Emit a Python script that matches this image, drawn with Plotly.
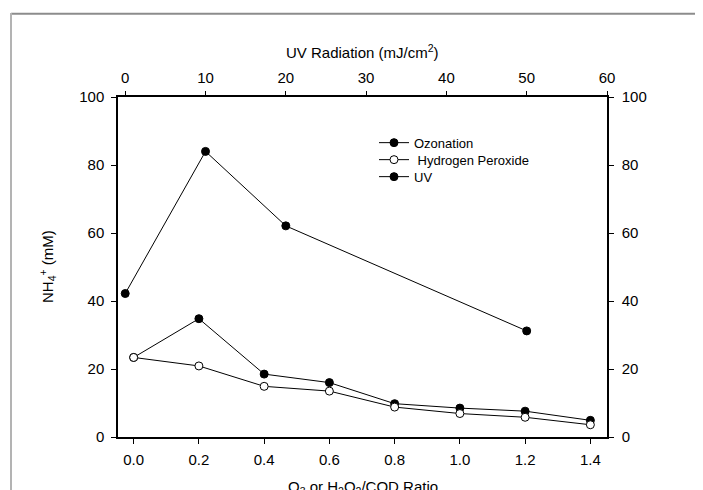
import plotly.graph_objects as go

# oxidant dose ratio (bottom axis)
ratio = [0.0, 0.2, 0.4, 0.6, 0.8, 1.0, 1.2, 1.4]
ozonation = [23.4, 34.8, 18.5, 16.0, 9.8, 8.5, 7.6, 4.9]
peroxide = [23.4, 20.9, 14.9, 13.5, 8.8, 6.9, 5.8, 3.6]

# UV dose (top axis)
uv_dose = [0, 10, 20, 50]
uv_nh4 = [42.2, 84.0, 62.1, 31.2]

FONT = "Liberation Sans, Arial, sans-serif"
OFF = 8  # page body margin
W, H = 703, 490
L, T = 110, 89
R, B = W - 599, H - 429
PW, PH = W - L - R, H - T - B


# page pixel -> paper coordinate
def px(x):
    return (x - OFF - L) / PW


def py(y):
    return (H - B - (y - OFF)) / PH


fig = go.Figure()
fig.add_trace(go.Scatter(
    x=ratio, y=ozonation, name="Ozonation", mode="lines+markers",
    line=dict(color="black", width=1), legend="legend",
    marker=dict(size=8, color="black", line=dict(color="black", width=1))))
fig.add_trace(go.Scatter(
    x=ratio, y=peroxide, name=" Hydrogen Peroxide", mode="lines+markers",
    line=dict(color="black", width=1), legend="legend2",
    marker=dict(size=8, color="white", line=dict(color="black", width=1))))
fig.add_trace(go.Scatter(
    x=uv_dose, y=uv_nh4, name="UV", mode="lines+markers",
    xaxis="x2", yaxis="y2", legend="legend3",
    line=dict(color="black", width=1),
    marker=dict(size=8, color="black", line=dict(color="black", width=1))))

axis_common = dict(showgrid=False, zeroline=False, showline=True,
                   linecolor="black", linewidth=1.5, ticks="outside",
                   tickcolor="black", tickwidth=1,
                   tickfont=dict(family=FONT, size=15, color="black"))

leg = dict(xanchor="left", yanchor="middle", bgcolor="rgba(0,0,0,0)",
           font=dict(family=FONT, size=13, color="black"))

fig.update_layout(
    width=W, height=H,
    showlegend=True,
    margin=dict(l=L, r=R, t=T, b=B),
    paper_bgcolor="white", plot_bgcolor="white",
    font=dict(family=FONT, color="black"),
    xaxis=dict(range=[-0.048, 1.451], tickvals=ratio,
               ticktext=[f"{v:.1f}" for v in ratio], ticklen=5,
               ticklabelstandoff=3, **axis_common),
    xaxis2=dict(range=[-0.9, 60], tickvals=[0, 10, 20, 30, 40, 50, 60],
                overlaying="x", side="top", anchor="y2", ticklen=4,
                ticklabelstandoff=2, **axis_common),
    yaxis=dict(range=[0, 100], tickvals=[0, 20, 40, 60, 80, 100], ticklen=5,
               ticklabelstandoff=4, **axis_common),
    yaxis2=dict(range=[0, 100], tickvals=[0, 20, 40, 60, 80, 100], ticklen=5,
                overlaying="y", side="right", anchor="x2",
                ticklabelstandoff=5, **axis_common),
    legend=dict(x=px(374), y=py(142.7), **leg),
    legend2=dict(x=px(374), y=py(159.7), **leg),
    legend3=dict(x=px(374), y=py(176.7), **leg),
    shapes=[
        dict(type="line", xref="paper", yref="paper",
             x0=px(11), x1=px(760), y0=py(13.8), y1=py(13.8),
             line=dict(color="#8c8c8c", width=2), layer="below"),
        dict(type="line", xref="paper", yref="paper",
             x0=px(11), x1=px(11), y0=py(13), y1=py(560),
             line=dict(color="#b3b3b3", width=2), layer="below"),
    ],
    annotations=[
        dict(text="UV Radiation (mJ/cm<sup>2</sup>)", xref="paper", yref="paper",
             x=0.5, y=py(51), xanchor="center", yanchor="middle",
             showarrow=False, font=dict(family=FONT, size=15)),
        dict(text="O<sub>3</sub> or H<sub>2</sub>O<sub>2</sub>/COD Ratio",
             xref="paper", yref="paper", x=0.5, y=py(476),
             xanchor="center", yanchor="top",
             showarrow=False, font=dict(family=FONT, size=15)),
        dict(text="NH<sub>4</sub><sup>+</sup> (mM)", xref="paper", yref="paper",
             x=px(47), y=0.5, xanchor="center", yanchor="middle", textangle=-90,
             showarrow=False, font=dict(family=FONT, size=15)),
    ],
)

fig.write_html("out.html")
